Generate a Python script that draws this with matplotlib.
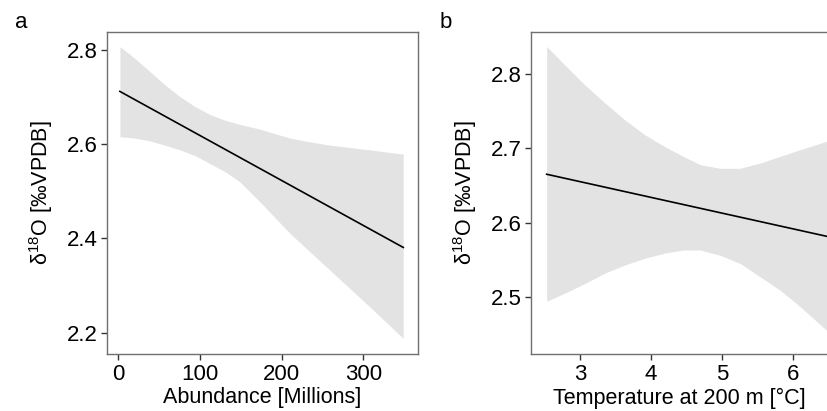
import matplotlib
matplotlib.use("Agg")
import matplotlib.pyplot as plt

plt.rcParams['font.family'] = ['Liberation Sans', 'DejaVu Sans']
plt.rcParams['mathtext.fontset'] = 'custom'
plt.rcParams['mathtext.rm'] = 'Liberation Sans'
plt.rcParams['mathtext.it'] = 'Liberation Sans'
plt.rcParams['mathtext.default'] = 'regular'

# panel a: abundance
abund_line_x = [2, 349]
abund_line_y = [2.712, 2.381]
abund_band_x = [2.1, 20.4, 38.8, 57.2, 75.5, 93.9, 112.2, 130.6, 149, 173.4,
                210.2, 234.6, 259.1, 283.6, 308.1, 348.9]
abund_upper = [2.807, 2.782, 2.754, 2.726, 2.701, 2.680, 2.663, 2.651, 2.642, 2.632,
               2.613, 2.605, 2.598, 2.593, 2.588, 2.579]
abund_lower = [2.616, 2.613, 2.607, 2.598, 2.588, 2.576, 2.559, 2.542, 2.520, 2.478,
               2.411, 2.372, 2.333, 2.294, 2.255, 2.188]

# panel b: temperature at 200 m
temp_line_x = [2.53, 6.5]
temp_line_y = [2.665, 2.581]
temp_band_x = [2.53, 2.788, 3.071, 3.353, 3.635, 3.917, 4.199, 4.457, 4.693, 4.975,
               5.257, 5.539, 5.821, 6.103, 6.5]
temp_upper = [2.837, 2.812, 2.785, 2.761, 2.738, 2.718, 2.702, 2.689, 2.678, 2.673,
              2.673, 2.680, 2.689, 2.698, 2.710]
temp_lower = [2.494, 2.505, 2.518, 2.532, 2.543, 2.552, 2.559, 2.563, 2.563, 2.556,
              2.545, 2.527, 2.509, 2.487, 2.453]

ylabel = r'δ$^{18}$O [‰VPDB]'
band_col = '#e3e3e3'
spine_col = '#707070'


def style(ax):
    for s in ax.spines.values():
        s.set_color(spine_col)
        s.set_linewidth(1.0)
    ax.tick_params(direction='out', length=4, width=1, color='#333333',
                   labelsize=16, labelcolor='black', pad=3)


fig = plt.figure(figsize=(8.28, 4.11), dpi=100)

ax1 = fig.add_axes([0.1292, 0.1387, 0.3756, 0.7834])
ax1.fill_between(abund_band_x, abund_lower, abund_upper, color=band_col, lw=0)
ax1.plot(abund_line_x, abund_line_y, color='black', lw=1.2)
ax1.set_xlim(-13.8, 367)
ax1.set_ylim(2.155, 2.838)
ax1.set_xticks([0, 100, 200, 300])
ax1.set_yticks([2.2, 2.4, 2.6, 2.8])
ax1.set_xlabel('Abundance [Millions]', fontsize=15.5, labelpad=2)
ax1.set_ylabel(ylabel, fontsize=15.5, labelpad=8)
style(ax1)

ax2 = fig.add_axes([0.6413, 0.1387, 0.3587, 0.7834])
ax2.fill_between(temp_band_x, temp_lower, temp_upper, color=band_col, lw=0)
ax2.plot(temp_line_x, temp_line_y, color='black', lw=1.2)
ax2.set_xlim(2.309, 6.498)
ax2.set_ylim(2.423, 2.8565)
ax2.set_xticks([3, 4, 5, 6])
ax2.set_yticks([2.5, 2.6, 2.7, 2.8])
ax2.set_xlabel('Temperature at 200 m [°C]', fontsize=15.5, labelpad=2)
ax2.set_ylabel(ylabel, fontsize=15.5, labelpad=8)
style(ax2)
ax2.spines['right'].set_visible(False)

fig.text(15 / 828, 1 - 22 / 411, 'a', fontsize=16, va='center', ha='left')
fig.text(440 / 828, 1 - 22 / 411, 'b', fontsize=16, va='center', ha='left')

fig.savefig('out.png', dpi=100)
